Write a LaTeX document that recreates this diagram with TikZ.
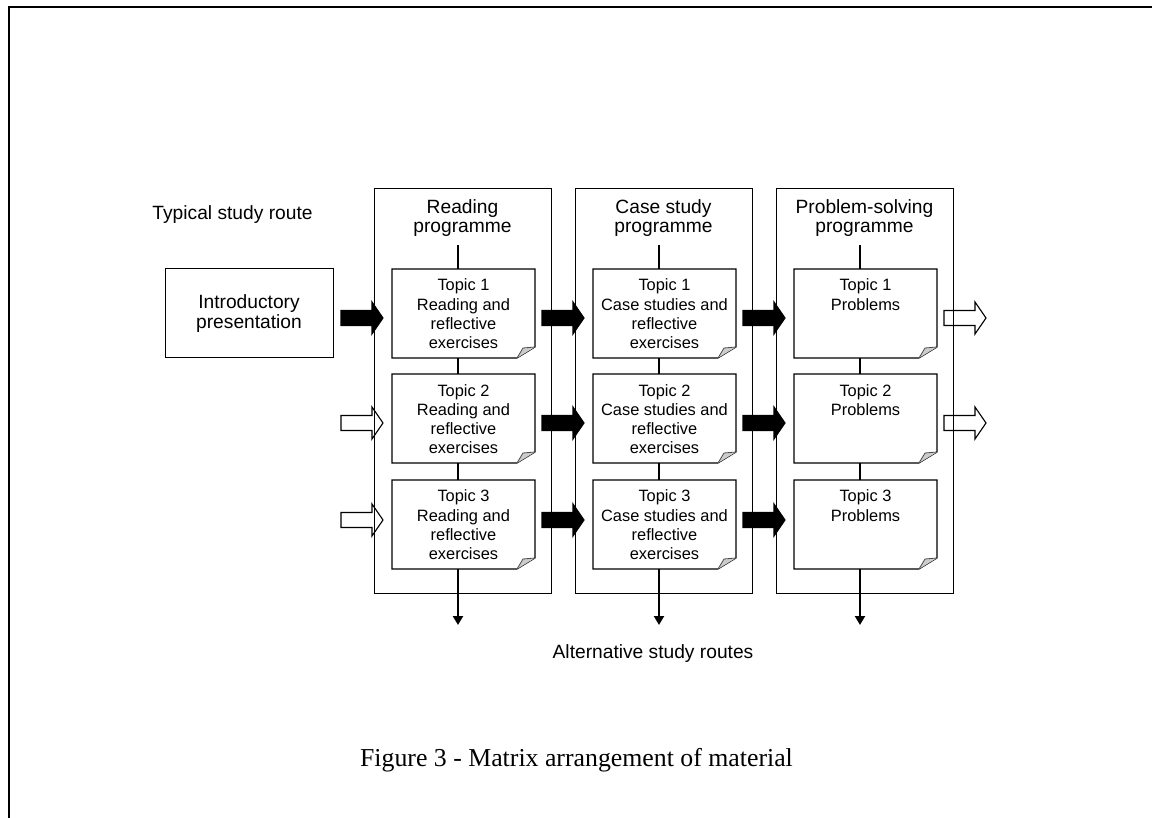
\documentclass[tikz,border=0pt]{standalone}
\usepackage{fontspec}
\setmainfont{Liberation Sans}
\newfontfamily\capfont{Liberation Serif}
\usetikzlibrary{arrows.meta,calc}

\newcommand{\topictext}[1]{\begin{minipage}[t][44.5pt][t]{71.5pt}\centering\fontsize{8.2}{9.6}\selectfont\rule{0pt}{11pt}#1\end{minipage}}

\begin{document}
\begin{tikzpicture}[x=0.5pt,y=-0.5pt,line join=miter,
	big/.style={font=\fontsize{9.6}{9.8}\selectfont,align=center,inner sep=0},
	topic/.style={inner sep=0,outer sep=0,anchor=north west},
	link/.style={line width=1.1pt},
	pics/blockarrow/.style={code={\draw[line width=0.55pt,#1] (0,-7.5)--(31,-7.5)--(31,-16)--(42,0)--(31,16)--(31,7.5)--(0,7.5)--cycle;}}]
	%==page frame
	\useasboundingbox (0,0) rectangle (1152,818);
	\draw[line width=1pt] (9,818)--(9,7)--(1152,7);
	%==block arrows (drawn first, the column lines run over them)
	\pic at (341,318) {blockarrow={fill=black}};
	\foreach \y in {423,520}{\pic at (341,\y) {blockarrow={fill=white}};}
	\foreach \x in {542,743}{\foreach \y in {318,423,520}{\pic at (\x,\y) {blockarrow={fill=black}};}}
	\foreach \y in {318,423}{\pic at (944,\y) {blockarrow={fill=white}};}
	%==intro box and labels
	\node[big,draw,line width=0.5pt,minimum width=84pt,minimum height=44.5pt] (intro) at (249,313.5) {Introductory\\presentation};
	\node[big,anchor=base] (typical) at (232.5,220) {Typical study route};
	\node[big,anchor=base] (alt) at (653,658) {Alternative study routes};
	\node[anchor=base,inner sep=0,font=\capfont\fontsize{12.9}{14}\selectfont] (cap) at (576.5,766) {Figure 3 - Matrix arrangement of material};
	%==columns
	\foreach \c/\head/\body in {1/{Reading\\programme}/{Reading and\\reflective\\exercises},
		2/{Case study\\programme}/{Case studies and\\reflective\\exercises},
		3/{Problem-solving\\programme}/{Problems}}{
		\pgfmathsetmacro\xl{374+201*(\c-1)}
		\pgfmathsetmacro\xc{\xl+88.5}
		\node[draw,line width=0.55pt,inner sep=0,minimum width=88.5pt,minimum height=202.5pt,anchor=north west] (col\c) at (\xl,188) {};
		\node[big,anchor=north] (h\c) at (\xc,199) {\head};
		\coordinate (v\c) at (\xc-4.5,245);
		\coordinate (e\c) at (\xc-4.5,625);
		\foreach \r/\yt in {1/269,2/374,3/480}{
			\node[topic] (t\c\r) at (\xl+18,\yt) {\topictext{Topic \r\\\body}};
			\draw[line width=0.55pt] (t\c\r.south west)--(t\c\r.north west)--(t\c\r.north east)
				--($(t\c\r.south east)+(0,-11)$)--($(t\c\r.south east)+(-18,0)$)--cycle;
			\filldraw[fill=gray!40,draw=black!70,line width=0.4pt] ($(t\c\r.south east)+(-18,0)$)--($(t\c\r.south east)+(-12,-10)$)--($(t\c\r.south east)+(0,-11)$);
		}
		\draw[link] (v\c)--(v\c|-t\c1.north) (t\c1.south-|v\c)--(t\c2.north-|v\c) (t\c2.south-|v\c)--(t\c3.north-|v\c);
		\draw[link,-{Triangle[width=5pt,length=4.5pt]}] (t\c3.south-|v\c)--(e\c);
	}
\end{tikzpicture}
\end{document}
